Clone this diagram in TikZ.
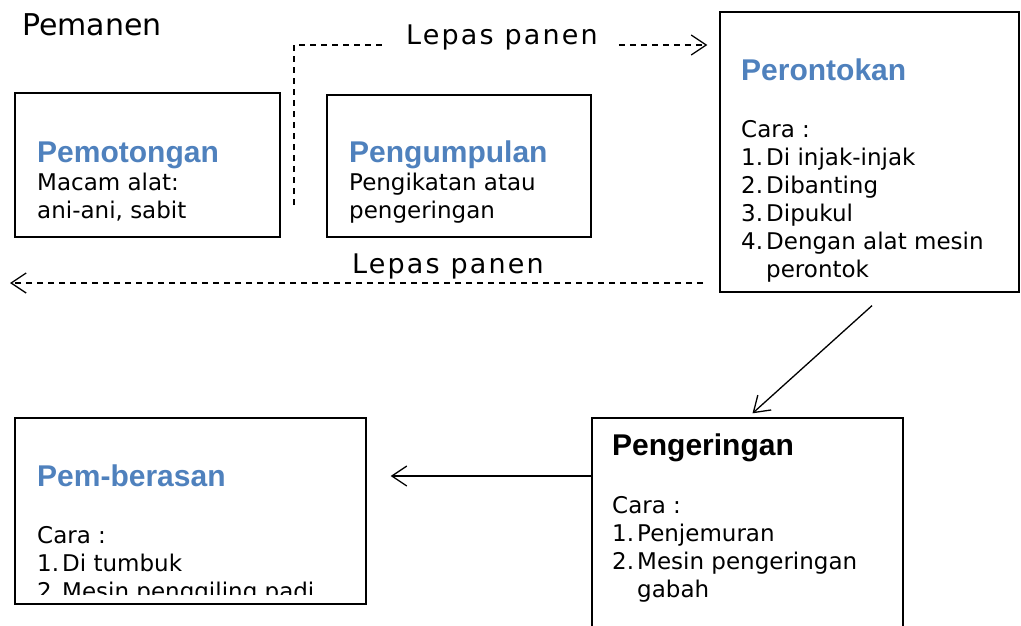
\documentclass[tikz,border=0pt]{standalone}
\usepackage{fontspec}
\setmainfont{DejaVu Sans}
\newfontfamily\titlefont{Liberation Sans}
\usetikzlibrary{arrows.meta}
\definecolor{titleblue}{RGB}{79,129,189}
\begin{document}
\begin{tikzpicture}[x=1pt,y=-1pt,
  box/.style={draw=black, line width=1.3pt, rectangle, inner sep=0pt},
  body/.style={anchor=base west, inner sep=0pt, font=\fontsize{23}{28}\selectfont},
  ttl/.style={anchor=base west, inner sep=0pt, font=\titlefont\bfseries\fontsize{30}{36}\selectfont, text=titleblue},
  lbl/.style={anchor=base west, inner ysep=0pt, inner xsep=21pt, font=\fontsize{27}{32}\selectfont\addfontfeature{LetterSpace=8}},
  tip/.style={-{Straight Barb[length=15pt,width=20pt]}},
  dashline/.style={line width=1.3pt, dash pattern=on 6pt off 5pt},
  solidline/.style={line width=1.3pt}]
\useasboundingbox (0,0) rectangle (1021,626);
\clip (0,0) rectangle (1021,626);

% boxes
\node[box, minimum width=265pt, minimum height=144pt] (b1) at (147.5,165) {};
\node[box, minimum width=264pt, minimum height=142pt] (b2) at (459,166) {};
\node[box, minimum width=299pt, minimum height=280pt] (b3) at (869.5,152) {};
\node[box, minimum width=351pt, minimum height=186pt] (b4) at (190.5,511) {};
\node[box, minimum width=311pt, minimum height=240pt] (b5) at (747.5,538) {};

% top labels
\node[anchor=base west, inner sep=0pt, font=\fontsize{30}{34}\selectfont] (pem) at (22,36) {Pemanen};
\node[lbl] (lp1) at (385,45) {Lepas panen};
\node[anchor=base west, inner sep=0pt, font=\fontsize{27}{32}\selectfont\addfontfeature{LetterSpace=8}] (lp2) at (352,273) {Lepas panen};

% Pemotongan
\node[ttl] (t1) at (37,162) {Pemotongan};
\node[body] (x1) at (37,190) {\begin{tabular}[t]{@{}l@{}}Macam alat:\\ani-ani, sabit\end{tabular}};

% Pengumpulan
\node[ttl] (t2) at (349,162) {Pengumpulan};
\node[body] (x2) at (349,190) {\begin{tabular}[t]{@{}l@{}}Pengikatan atau\\pengeringan\end{tabular}};

% Perontokan
\node[ttl] (t3) at (741,81) {Perontokan};
\node[body] (x3) at (741,138) {\begin{tabular}[t]{@{}l@{}}Cara :\\
\makebox[25pt][l]{1.}Di injak-injak\\
\makebox[25pt][l]{2.}Dibanting\\
\makebox[25pt][l]{3.}Dipukul\\
\makebox[25pt][l]{4.}Dengan alat mesin\\
\hspace*{25pt}perontok\end{tabular}};

% Pem-berasan
\node[ttl] (t4) at (37,486) {Pem-berasan};
\begin{scope}
\clip (15,418) rectangle (366,594);
\node[body] (x4) at (37,543) {\begin{tabular}[t]{@{}l@{}}Cara :\\
\makebox[25pt][l]{1.}Di tumbuk\\
\makebox[25pt][l]{2.}Mesin penggiling padi\end{tabular}};
\end{scope}

% Pengeringan
\node[ttl, text=black] (t5) at (612,455) {Pengeringan};
\node[body] (x5) at (612,513) {\begin{tabular}[t]{@{}l@{}}Cara :\\
\makebox[25pt][l]{1.}Penjemuran\\
\makebox[25pt][l]{2.}Mesin pengeringan\\
\hspace*{25pt}gabah\end{tabular}};

% connectors
\coordinate (d1) at (294,205);
\draw[dashline] (d1) |- (lp1.base west);
\draw[dashline, tip] (lp1.base east) -- ([xshift=-12pt]b3.west |- lp1.base east);

\coordinate (s2) at (703,283);
\coordinate (e2) at (10,283);
\draw[dashline, tip] (s2) -- (e2);

\draw[solidline, tip] ([shift={(2.5,13)}]b3.south) -- ([shift={(5,-4)}]b5.north);
\draw[solidline, tip] (b5.west |- 0,476) -- ([xshift=24pt]b4.east |- 0,476);
\end{tikzpicture}
\end{document}
